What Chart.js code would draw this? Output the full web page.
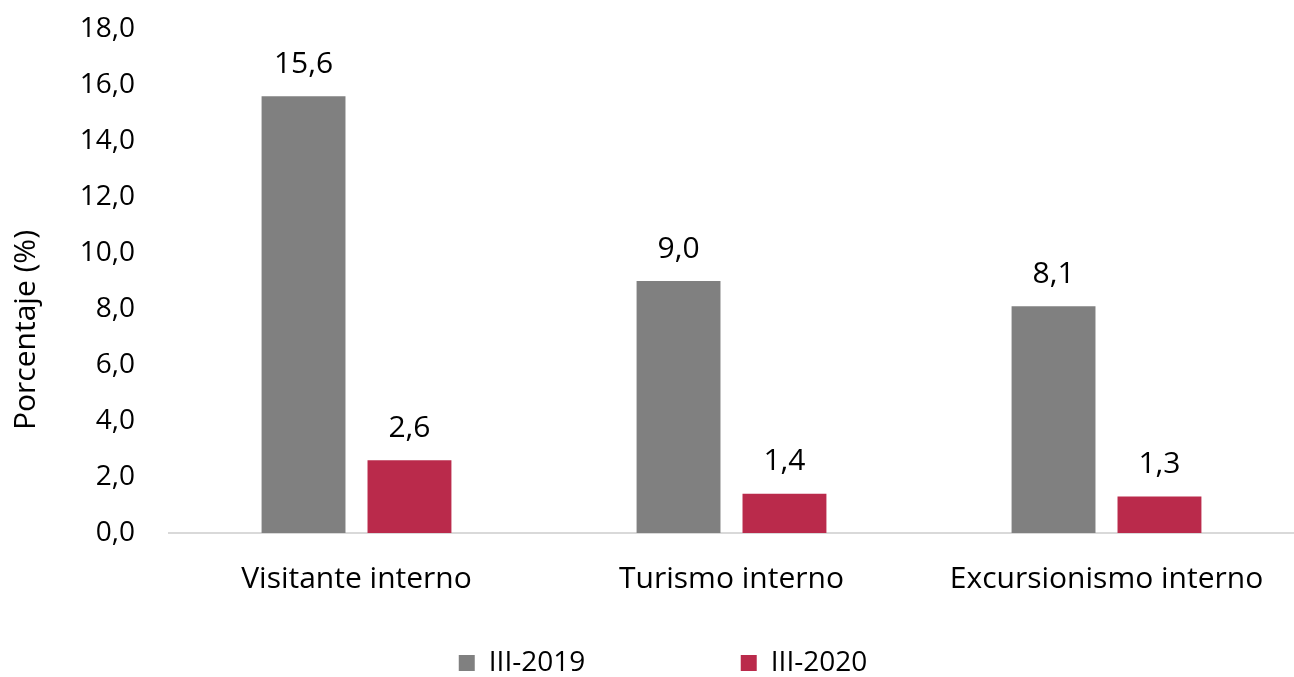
<!DOCTYPE html>
<html>
<head>
<meta charset="utf-8">
<script src="https://cdn.jsdelivr.net/npm/chart.js@4/dist/chart.umd.min.js"></script>
<style>
  html, body { margin: 0; padding: 0; background: #ffffff; }
  #wrap { width: 1294px; height: 677px; position: relative; }
</style>
</head>
<body>
<div id="wrap"><canvas id="c" width="1294" height="677"></canvas></div>
<script>
const categories = ["Visitante interno", "Turismo interno", "Excursionismo interno"];
const seriesNames = ["III-2019", "III-2020"];
const values2019 = [15.6, 9.0, 8.1];
const values2020 = [2.6, 1.4, 1.3];
const yTicks = [0, 2, 4, 6, 8, 10, 12, 14, 16, 18];
const yTitle = "Porcentaje (%)";

const FONT = "'Open Sans', 'Noto Sans', sans-serif";
const fmt = v => v.toFixed(1).replace('.', ',');

const valueLabels = {
  id: 'valueLabels',
  afterDatasetsDraw(chart) {
    const ctx = chart.ctx;
    ctx.save();
    ctx.font = "30px " + FONT;
    ctx.fillStyle = "#000000";
    ctx.textAlign = "center";
    ctx.textBaseline = "middle";
    chart.data.datasets.forEach((ds, i) => {
      chart.getDatasetMeta(i).data.forEach((bar, j) => {
        ctx.fillText(fmt(ds.data[j]), bar.x, bar.y - 32);
      });
    });
    ctx.restore();
  }
};

const yAxisTitle = {
  id: 'yAxisTitle',
  afterDraw(chart) {
    const ctx = chart.ctx;
    ctx.save();
    ctx.translate(26, 330);
    ctx.rotate(-Math.PI / 2);
    ctx.font = "30px " + FONT;
    ctx.fillStyle = "#000000";
    ctx.textAlign = "center";
    ctx.textBaseline = "middle";
    ctx.fillText(yTitle, 0, 0);
    ctx.restore();
  }
};

new Chart(document.getElementById('c'), {
  type: 'bar',
  data: {
    labels: categories,
    datasets: [
      { label: seriesNames[0], data: values2019, backgroundColor: "#808080",
        categoryPercentage: 0.565, barPercentage: 0.792 },
      { label: seriesNames[1], data: values2020, backgroundColor: "#BA2A4B",
        categoryPercentage: 0.565, barPercentage: 0.792 }
    ]
  },
  options: {
    responsive: false,
    animation: false,
    layout: { padding: { top: 29, right: 0, left: 32, bottom: -10 } },
    plugins: {
      tooltip: { enabled: false },
      legend: {
        position: 'bottom',
        labels: {
          font: { family: FONT, size: 28 },
          color: "#000000",
          boxWidth: 16,
          boxHeight: 16,
          padding: 10,
          generateLabels(chart) {
            const items = Chart.defaults.plugins.legend.labels.generateLabels(chart);
            items.forEach((it, i) => {
              it.lineWidth = 0;
              if (i === 0) it.text = it.text + "\u00A0".repeat(20);
            });
            return items;
          }
        }
      }
    },
    scales: {
      x: {
        afterFit(scale) { scale.height = 106; scale.paddingLeft = 0; scale.paddingRight = 0; },
        grid: { display: false, drawTicks: false },
        border: { display: true, color: "#d9d9d9", width: 2 },
        ticks: { font: { family: FONT, size: 30 }, color: "#000000", padding: 28 }
      },
      y: {
        min: 0, max: 18,
        afterBuildTicks(scale) { scale.ticks = yTicks.map(v => ({ value: v })); },
        afterFit(scale) { scale.width = 137; scale.paddingTop = 0; scale.paddingBottom = 0; },
        grid: { display: false, drawTicks: false },
        border: { display: false },
        ticks: { font: { family: FONT, size: 28 }, color: "#000000", padding: 34,
                 callback: v => fmt(v) }
      }
    }
  },
  plugins: [valueLabels, yAxisTitle]
});
</script>
</body>
</html>
